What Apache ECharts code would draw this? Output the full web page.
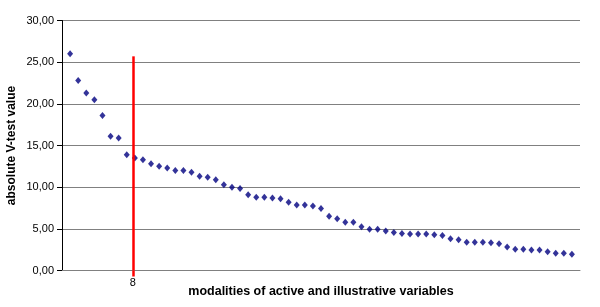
<!DOCTYPE html>
<html>
<head>
<meta charset="utf-8">
<script src="https://cdn.jsdelivr.net/npm/echarts@6/dist/echarts.min.js"></script>
<style>
  html, body { margin: 0; padding: 0; background: #fff; }
  #chart { width: 600px; height: 307px; }
</style>
</head>
<body>
<div id="chart"></div>
<script>
// absolute V-test values, sorted by rank (1..63)
var vtestValues = [
  26.0, 22.8, 21.3, 20.5, 18.6, 16.1, 15.9, 13.9, 13.5, 13.3,
  12.8, 12.5, 12.3, 12.0, 12.0, 11.8, 11.3, 11.2, 10.9, 10.3,
  10.0, 9.85, 9.1, 8.8, 8.8, 8.7, 8.6, 8.2, 7.85, 7.85,
  7.75, 7.45, 6.5, 6.2, 5.8, 5.8, 5.25, 4.95, 4.95, 4.75,
  4.55, 4.45, 4.38, 4.38, 4.38, 4.28, 4.2, 3.8, 3.7, 3.4,
  3.4, 3.4, 3.34, 3.2, 2.82, 2.54, 2.54, 2.46, 2.46, 2.26,
  2.08, 2.08, 1.96
];
// cut-off line after the 8th modality
var cutLabel = '8';
var cutX = 8.75;
var cutTop = 25.7;
var yTicks = [0, 5, 10, 15, 20, 25, 30];

var points = vtestValues.map(function(v, i) { return [i + 1, v]; });

var chart = echarts.init(document.getElementById('chart'));
var font = 'Liberation Sans, Arial, sans-serif';

chart.setOption({
  animation: false,
  backgroundColor: '#fff',
  grid: { left: 62, right: 20, top: 20.5, bottom: 36.5, outerBoundsMode: 'none', containLabel: false },
  xAxis: {
    type: 'value',
    min: 0,
    max: 64,
    name: 'modalities of active and illustrative variables',
    nameLocation: 'middle',
    nameGap: 15,
    nameMoveOverlap: false,
    nameTextStyle: { fontFamily: font, fontSize: 12.5, fontWeight: 'bold', color: '#000' },
    axisLine: { show: true, lineStyle: { color: '#808080', width: 1 } },
    axisTick: {
      show: true,
      customValues: [cutX],
      length: 6,
      lineStyle: { color: '#ff0000', width: 2.5 }
    },
    axisLabel: {
      show: true,
      customValues: [cutX],
      fontFamily: font, fontSize: 11, color: '#000', margin: 7,
      formatter: function() { return cutLabel; }
    },
    splitLine: { show: false }
  },
  yAxis: {
    type: 'value',
    min: yTicks[0],
    max: yTicks[yTicks.length - 1],
    interval: yTicks[1] - yTicks[0],
    name: 'absolute V-test value',
    nameLocation: 'middle',
    nameGap: 44,
    nameMoveOverlap: false,
    nameTextStyle: { fontFamily: font, fontSize: 12, fontWeight: 'bold', color: '#000' },
    axisLine: { show: true, lineStyle: { color: '#000', width: 1 } },
    axisTick: { show: true, length: 5, lineStyle: { color: '#000' } },
    axisLabel: {
      fontFamily: font, fontSize: 11, color: '#000', margin: 8,
      formatter: function(v) { return v.toFixed(2).replace('.', ','); }
    },
    splitLine: { show: true, lineStyle: { color: '#808080', width: 1 } }
  },
  series: [{
    type: 'scatter',
    data: points,
    symbol: 'diamond',
    symbolSize: [6, 7],
    itemStyle: { color: '#000080' },
    markLine: {
      silent: true,
      symbol: ['none', 'none'],
      lineStyle: { color: '#ff0000', width: 2.5, type: 'solid' },
      label: { show: false },
      data: [[
        { coord: [cutX, 0] },
        { coord: [cutX, cutTop] }
      ]]
    }
  }]
});
</script>
</body>
</html>
